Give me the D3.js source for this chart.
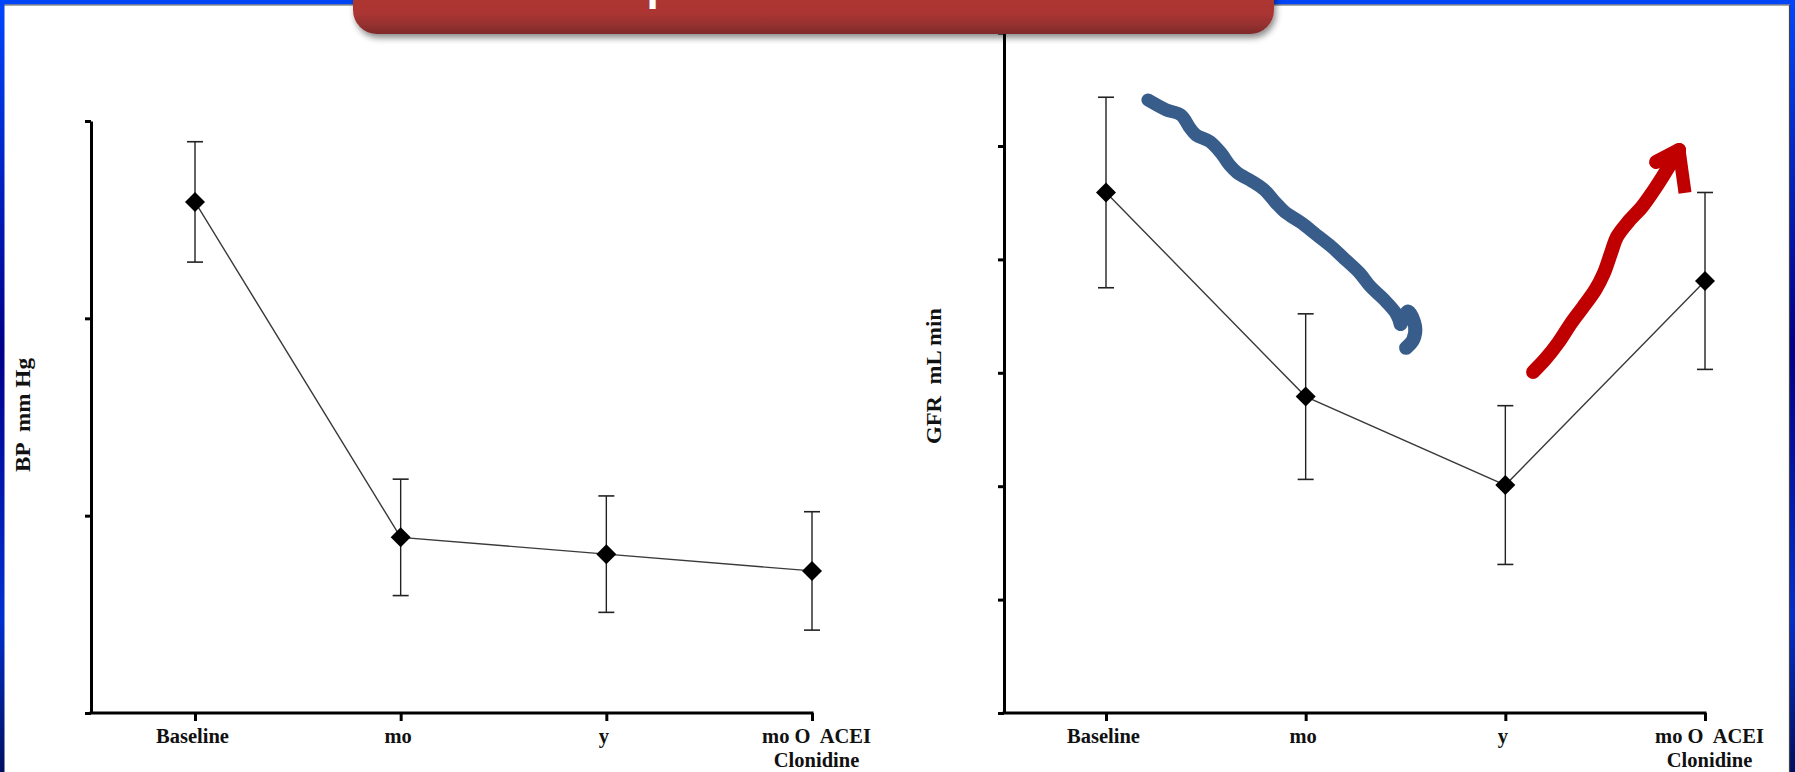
<!DOCTYPE html>
<html>
<head>
<meta charset="utf-8">
<script src="https://cdn.jsdelivr.net/npm/d3@7"></script>
<style>
  html, body { margin: 0; padding: 0; background: #ffffff; overflow: hidden; }
  svg { display: block; }
</style>
</head>
<body>
<svg id="chart" width="1795" height="772"></svg>
<script>
// ---------------- DATA ----------------
const categories = ["Baseline", "mo", "y", "mo O  ACEI|Clonidine"];

// Left panel: BP (mm Hg) – tick labels absent in the source
const bpMean = [151.8, 117.8, 116.1, 114.4];
const bpErr  = [6.1, 5.9, 5.9, 6.0];
const bpTicks = [100, 120, 140, 160];

// Right panel: GFR (mL/min) – tick labels absent in the source
const gfrMean = [45.9, 27.9, 20.1, 38.1];
const gfrErr  = [8.4, 7.3, 7.0, 7.8];
const gfrTicks = [0, 10, 20, 30, 40, 50, 60];

const yLabels = ["BP  mm Hg", "GFR  mL min"];
const titleText = "BP response and GFR trends";

// Hand-drawn annotations, in (category index, GFR value) space
const blueArrow = [[0.21,54.06],[0.30,53.2],[0.376,52.73],[0.42,51.6],[0.451,50.97],[0.52,50.4],[0.576,49.38],
  [0.62,48.3],[0.659,47.62],[0.73,46.9],[0.794,46.12],[0.85,45.0],[0.896,44.18],[0.98,43.2],[1.055,42.15],
  [1.13,41.1],[1.201,39.95],[1.27,38.8],[1.326,37.57],[1.39,36.5],[1.451,35.27],[1.475,34.3]];
const blueHook = [[1.475,34.3],[1.512,35.4],[1.548,34.1],[1.538,32.9],[1.503,32.2]];
const redArrow = [[2.139,30.07],[2.20,31.2],[2.264,32.63],[2.33,34.4],[2.389,35.80],[2.45,37.3],[2.494,38.80],
  [2.53,40.6],[2.559,41.98],[2.62,43.4],[2.684,44.62],[2.74,46.0],[2.787,47.27],[2.870,49.65]];
const redBarbL = [[2.755,48.59],[2.870,49.65]];
const redBarbR = [[2.870,49.65],[2.900,45.86]];

// ---------------- SETUP ----------------
const svg = d3.select("#chart");
const W = 1795, H = 772;
const defs = svg.append("defs");

const sideGrad = defs.append("linearGradient").attr("id","sideGrad")
  .attr("x1",0).attr("y1",0).attr("x2",0).attr("y2",1);
sideGrad.append("stop").attr("offset","0%").attr("stop-color","#0046ff");
sideGrad.append("stop").attr("offset","45%").attr("stop-color","#00008a");
sideGrad.append("stop").attr("offset","80%").attr("stop-color","#0030d0");
sideGrad.append("stop").attr("offset","100%").attr("stop-color","#001060");

const bannerGrad = defs.append("linearGradient").attr("id","bannerGrad")
  .attr("x1",0).attr("y1",0).attr("x2",0).attr("y2",1);
bannerGrad.append("stop").attr("offset","0%").attr("stop-color","#b53c38");
bannerGrad.append("stop").attr("offset","78%").attr("stop-color","#ab3532");
bannerGrad.append("stop").attr("offset","90%").attr("stop-color","#963030");
bannerGrad.append("stop").attr("offset","100%").attr("stop-color","#7e2a2a");

const shadow = defs.append("filter").attr("id","shadow")
  .attr("x","-10%").attr("y","-50%").attr("width","120%").attr("height","200%");
shadow.append("feDropShadow").attr("dx",2).attr("dy",4).attr("stdDeviation",3)
  .attr("flood-color","#000").attr("flood-opacity",0.45);

// background + frame
svg.append("rect").attr("x",0).attr("y",0).attr("width",W).attr("height",H).attr("fill","#ffffff");
svg.append("rect").attr("x",0).attr("y",0).attr("width",W).attr("height",4.5).attr("fill","#0044f5");
svg.append("line").attr("x1",0).attr("x2",W).attr("y1",5).attr("y2",5).attr("stroke","#555").attr("stroke-width",1.2);
svg.append("rect").attr("x",0).attr("y",0).attr("width",4.5).attr("height",H).attr("fill","url(#sideGrad)");
svg.append("rect").attr("x",W-5).attr("y",0).attr("width",5).attr("height",H).attr("fill","url(#sideGrad)");
svg.append("line").attr("x1",W-5.5).attr("x2",W-5.5).attr("y1",5).attr("y2",H).attr("stroke","#444").attr("stroke-width",1.2);

const serif = "'Liberation Serif','Times New Roman',serif";

function panel(opts) {
  const g = svg.append("g");
  const x = d3.scalePoint().domain(categories).range(opts.xRange);
  const y = d3.scaleLinear().domain(opts.yDomain).range(opts.yRange);
  const xi = d3.scaleLinear().domain([0, categories.length - 1]).range(opts.xRange);

  // y axis
  const yAxis = d3.axisLeft(y).tickValues(opts.ticks).tickFormat("").tickSize(6).tickSizeOuter(0);
  const gy = g.append("g").attr("transform", `translate(${opts.axisX},0)`).call(yAxis);
  gy.select(".domain").attr("stroke","#000").attr("stroke-width",3);
  gy.selectAll(".tick line").attr("stroke","#000").attr("stroke-width",3);

  // x axis
  const xAxis = d3.axisBottom(x).tickSize(8).tickSizeOuter(0).tickFormat("");
  const gx = g.append("g").attr("transform", `translate(0,${opts.yRange[0]})`).call(xAxis);
  gx.select(".domain").attr("d", `M${opts.axisX - 1.5},0H${opts.xRange[1] + 1.5}`)
    .attr("stroke","#000").attr("stroke-width",3);
  gx.selectAll(".tick line").attr("stroke","#000").attr("stroke-width",3);
  // tick labels
  gx.selectAll(".tick").each(function(d) {
    const parts = d.split("|");
    const dx = parts.length > 1 ? 4 : -3;
    const t = d3.select(this).append("text")
      .attr("fill","#111").attr("font-family",serif).attr("font-weight","bold")
      .attr("font-size",20.5).attr("text-anchor","middle").attr("x", dx);
    parts.forEach((p, i) => {
      t.append("tspan").attr("x", dx).attr("y", 30 + i * 24)
        .attr("xml:space","preserve").text(p);
    });
  });

  // axis label
  g.append("text")
    .attr("transform", `translate(${opts.labelX},${opts.labelY}) rotate(-90)`)
    .attr("text-anchor","middle").attr("dominant-baseline","middle")
    .attr("font-family",serif).attr("font-weight","bold").attr("font-size",21)
    .attr("fill","#111").attr("xml:space","preserve")
    .attr("textLength", opts.labelLen).attr("lengthAdjust","spacingAndGlyphs")
    .text(opts.label);

  const data = categories.map((c, i) => ({c, m: opts.mean[i], e: opts.err[i]}));

  // connecting line
  g.append("path").datum(data)
    .attr("d", d3.line().x(d => x(d.c)).y(d => y(d.m)))
    .attr("fill","none").attr("stroke","#3a3a3a").attr("stroke-width",1.4);

  // error bars
  const eb = g.append("g").selectAll("g").data(data).join("g");
  eb.append("line").attr("x1", d => x(d.c)).attr("x2", d => x(d.c))
    .attr("y1", d => y(d.m + d.e)).attr("y2", d => y(d.m - d.e))
    .attr("stroke","#222").attr("stroke-width",1.4);
  eb.append("line").attr("x1", d => x(d.c) - 8).attr("x2", d => x(d.c) + 8)
    .attr("y1", d => y(d.m + d.e)).attr("y2", d => y(d.m + d.e))
    .attr("stroke","#222").attr("stroke-width",1.6);
  eb.append("line").attr("x1", d => x(d.c) - 8).attr("x2", d => x(d.c) + 8)
    .attr("y1", d => y(d.m - d.e)).attr("y2", d => y(d.m - d.e))
    .attr("stroke","#222").attr("stroke-width",1.6);

  // diamonds
  g.append("g").selectAll("path").data(data).join("path")
    .attr("transform", d => `translate(${x(d.c)},${y(d.m)})`)
    .attr("d", "M0,-10L10,0L0,10L-10,0Z")
    .attr("fill","#000");

  return {x, y, xi};
}

panel({
  xRange: [195, 812], yDomain: [100, 160], yRange: [713, 121], axisX: 91,
  ticks: bpTicks, mean: bpMean, err: bpErr,
  label: yLabels[0], labelX: 25, labelY: 415, labelLen: 114
});

const right = panel({
  xRange: [1106, 1705], yDomain: [0, 60], yRange: [713, 32.6], axisX: 1004,
  ticks: gfrTicks, mean: gfrMean, err: gfrErr,
  label: yLabels[1], labelX: 936, labelY: 376, labelLen: 136
});

// annotations
const annLine = d3.line().x(d => right.xi(d[0])).y(d => right.y(d[1])).curve(d3.curveCatmullRom);
const ann = svg.append("g").attr("fill","none").attr("stroke-linecap","round").attr("stroke-linejoin","round");
ann.append("path").attr("d", annLine(blueArrow)).attr("stroke","#385d8a").attr("stroke-width",13);
ann.append("path").attr("d", annLine(blueHook)).attr("stroke","#385d8a").attr("stroke-width",14);
ann.append("path").attr("d", annLine(redArrow)).attr("stroke","#c00000").attr("stroke-width",14);
ann.append("path").attr("d", annLine(redBarbL)).attr("stroke","#c00000").attr("stroke-width",14);
ann.append("path").attr("d", d3.line().x(d => right.xi(d[0])).y(d => right.y(d[1]))(redBarbR))
  .attr("stroke","#c00000").attr("stroke-width",13).attr("stroke-linecap","butt");

// banner (title box, mostly above the visible area)
const banner = svg.append("g");
banner.append("rect").attr("x",353).attr("y",-60).attr("width",921).attr("height",94)
  .attr("rx",24).attr("ry",24).attr("fill","url(#bannerGrad)").attr("filter","url(#shadow)");
banner.append("text").attr("x",813).attr("y",0.4).attr("text-anchor","middle")
  .attr("font-family","'Liberation Sans',Arial,sans-serif").attr("font-weight","bold")
  .attr("font-size",44).attr("fill","#ffffff").text(titleText);
</script>
</body>
</html>
